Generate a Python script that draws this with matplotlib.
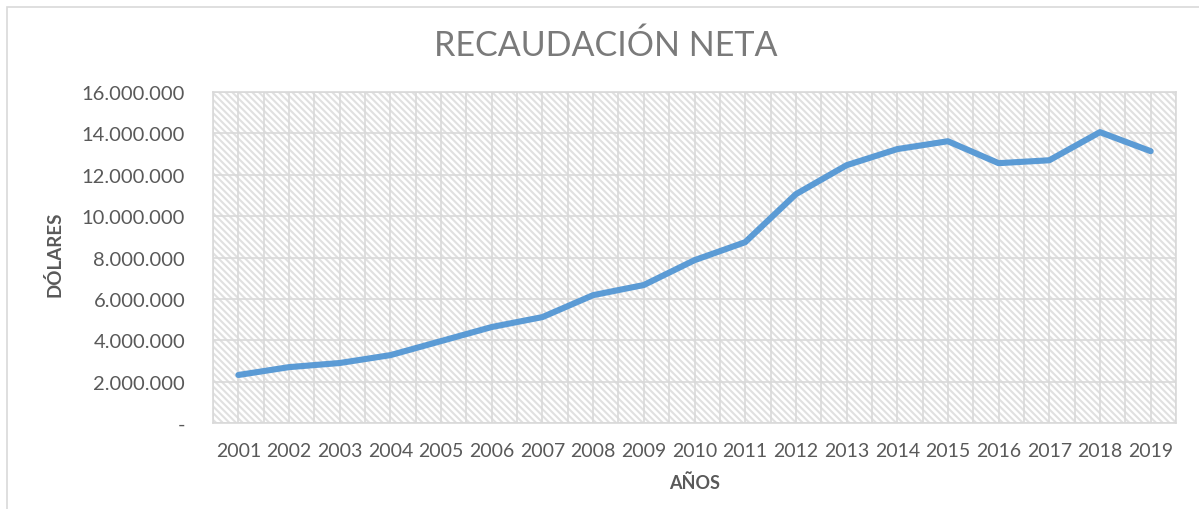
import matplotlib.pyplot as plt
from matplotlib.ticker import FuncFormatter, MultipleLocator
from matplotlib.patches import Rectangle

# --- datos ---
anios = ['2001', '2002', '2003', '2004', '2005', '2006', '2007', '2008', '2009', '2010',
         '2011', '2012', '2013', '2014', '2015', '2016', '2017', '2018', '2019']
recaudacion = [2320000, 2700000, 2900000, 3280000, 3960000, 4640000, 5120000, 6180000,
               6670000, 7870000, 8740000, 11060000, 12460000, 13240000, 13620000,
               12560000, 12700000, 14060000, 13140000]
y_ticks = [0, 2000000, 4000000, 6000000, 8000000, 10000000, 12000000, 14000000, 16000000]

plt.rcParams['font.family'] = ['Lato', 'DejaVu Sans']
plt.rcParams['hatch.linewidth'] = 1.5

gris_txt = '#595959'
gris_lin = '#d9d9d9'

fig = plt.figure(figsize=(11.99, 5.10), dpi=100)
ax = fig.add_axes([213 / 1199, 1 - 424 / 510, (1176 - 213) / 1199, (424 - 93) / 510])

# borde del gráfico (marco exterior)
fig.patches.append(Rectangle((7 / 1199, -0.1), 1.2, 1 - 8 / 510 + 0.1,
                             transform=fig.transFigure, fill=False,
                             edgecolor='#d9d9d9', linewidth=1.2))

# fondo rayado
ax.add_patch(Rectangle((0, 0), 1, 1, transform=ax.transAxes, facecolor='white',
                       edgecolor='#e0e0e0', linewidth=0, hatch='\\\\\\\\\\', zorder=0))

x = list(range(len(anios)))
ax.plot(x, recaudacion, color='#5b9bd5', linewidth=4.4, solid_capstyle='round',
        solid_joinstyle='round', zorder=3)

ax.set_xlim(-0.5, len(anios) - 0.5)
ax.set_ylim(0, 16000000)
ax.set_xticks(x)
ax.set_xticklabels(anios)
ax.xaxis.set_minor_locator(MultipleLocator(0.5))
ax.set_yticks(y_ticks)
ax.yaxis.set_major_formatter(FuncFormatter(
    lambda v, p: '-' if v == 0 else f'{int(v):,}'.replace(',', '.')))

ax.grid(True, which='both', axis='x', color=gris_lin, linewidth=1.2, zorder=1)
ax.grid(True, which='major', axis='y', color=gris_lin, linewidth=1.2, zorder=1)
ax.set_axisbelow(True)
ax.tick_params(which='both', length=0)
ax.tick_params(axis='x', labelsize=14, colors=gris_txt, pad=14)
ax.tick_params(axis='y', labelsize=14.5, colors=gris_txt, pad=20)
for s in ax.spines.values():
    s.set_color(gris_lin)
    s.set_linewidth(1.2)

ax.set_xlabel('AÑOS', fontsize=13, fontweight='bold', color=gris_txt, labelpad=10)
fig.text(55 / 1199, 1 - 254 / 510, 'DÓLARES', rotation=90, fontsize=13.5,
         fontweight='bold', color=gris_txt, ha='center', va='center')
fig.text(606 / 1199, 1 - 46 / 510, 'RECAUDACIÓN NETA', fontsize=24.5, color='#7a7a7a',
         ha='center', va='center')

fig.savefig('out.png', dpi=100)
